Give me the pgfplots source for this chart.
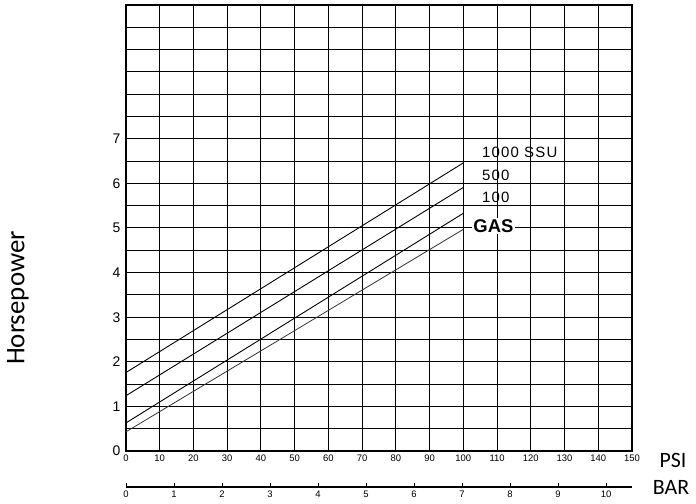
\documentclass[border=0pt]{standalone}
\usepackage{fontspec}
\setmainfont{Liberation Sans}
\newfontfamily\calib{Carlito}
\newfontfamily\lettr[LetterSpace=8]{Liberation Sans}
\usepackage{pgfplots}
\pgfplotsset{compat=1.18}
\begin{document}
\begin{tikzpicture}
\path[use as bounding box] (0,0) rectangle (696bp,504bp);
% main PSI chart
\begin{axis}[
  at={(126bp,53bp)}, anchor=south west,
  scale only axis, width=506bp, height=446bp,
  xmin=0, xmax=150, ymin=0, ymax=10,
  xtick={0,10,...,150}, ytick={0,...,7},
  extra y ticks={0.5,1.5,2.5,3.5,4.5,5.5,6.5,7.5,8,8.5,9,9.5,10},
  extra y tick labels={},
  extra y tick style={grid=major},
  grid=major,
  major grid style={black, line width=1bp},
  major tick length=0pt,
  axis line style={line width=1.5bp},
  /pgf/number format/assume math mode=true,
  xticklabel style={font=\fontsize{9.5}{9.5}\selectfont},
  yticklabel style={font=\fontsize{14}{14}\selectfont, xshift=-2bp},
  clip=false]
\addplot[black, line width=0.9bp] coordinates {(0,1.76) (100,6.46)};
\addplot[black, line width=0.9bp] coordinates {(0,1.24) (100,5.91)};
\addplot[black, line width=0.9bp] coordinates {(0,0.63) (100,5.33)};
\addplot[black!80, line width=0.8bp] coordinates {(0,0.43) (100,4.97)};
\node[anchor=west, inner sep=0pt, font=\lettr\fontsize{15}{15}\selectfont] at (axis cs:105.5,6.70) {1000 SSU};
\node[anchor=west, inner sep=0pt, font=\lettr\fontsize{15}{15}\selectfont] at (axis cs:105.5,6.19) {500};
\node[anchor=west, inner sep=0pt, font=\lettr\fontsize{15}{15}\selectfont] at (axis cs:105.5,5.69) {100};
\node[anchor=west, fill=white, inner sep=1.5bp, font=\bfseries\fontsize{18.5}{18.5}\selectfont] at (axis cs:102.5,5.04) {GAS};
\end{axis}
% BAR scale
\begin{axis}[
  at={(126bp,17bp)}, anchor=south west,
  scale only axis, width=506bp, height=10bp,
  xmin=0, xmax=10.54, ymin=0, ymax=1,
  axis x line*=bottom, axis y line=none,
  x axis line style={-, line width=1.3bp},
  xtick={0,...,10},
  tick align=inside, major tick length=4bp,
  tick style={black, line width=0.9bp},
  /pgf/number format/assume math mode=true,
  xticklabel style={font=\fontsize{9.5}{9.5}\selectfont}]
\addplot[draw=none] coordinates {(0,0) (10,0)};
\end{axis}
\node[font=\calib\fontsize{22}{22}\selectfont] at (673bp,44bp) {PSI};
\node[font=\calib\fontsize{22}{22}\selectfont] at (671bp,16.5bp) {BAR};
\node[rotate=90, font=\calib\fontsize{27}{27}\selectfont] at (18bp,206bp) {Horsepower};
\end{tikzpicture}
\end{document}
